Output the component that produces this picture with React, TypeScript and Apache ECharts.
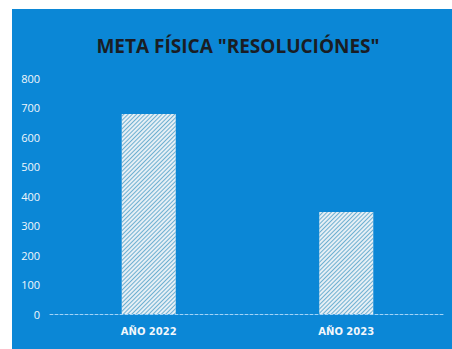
import React, { useEffect, useRef } from "react";
import * as echarts from "echarts";

const categories = ["AÑO 2022", "AÑO 2023"];
const values = [678, 346];
const yTicks = { min: 0, max: 800, interval: 100 };
const title = 'META FÍSICA "RESOLUCIÓNES"';

export default function App() {
  const ref = useRef<HTMLDivElement>(null);
  useEffect(() => {
    document.body.style.margin = "0";
    const chart = echarts.init(ref.current!, null, { renderer: "svg" });
    chart.setOption({
      animation: false,
      backgroundColor: "#0b87d6",
      title: {
        text: title,
        left: 221,
        textAlign: "center",
        top: 22,
        textStyle: {
          fontFamily: "Open Sans",
          fontWeight: "bold",
          fontSize: 19,
          color: "#1a1d24",
        },
      },
      grid: { left: 38, right: 7, top: 69, bottom: 35 },
      xAxis: {
        type: "category",
        data: categories,
        axisLine: {
          show: true,
          lineStyle: { color: "rgba(200,230,255,0.8)", type: [3, 2], width: 1 },
        },
        axisTick: { show: false },
        axisLabel: {
          color: "#f2f7fb",
          fontFamily: "DejaVu Sans",
          fontWeight: "bold",
          fontSize: 10,
          margin: 12,
        },
      },
      yAxis: {
        type: "value",
        min: yTicks.min,
        max: yTicks.max,
        interval: yTicks.interval,
        splitLine: { show: false },
        axisLine: { show: false },
        axisTick: { show: false },
        axisLabel: {
          color: "#f2f7fb",
          fontFamily: "Open Sans",
          fontSize: 11,
          margin: 10,
        },
      },
      series: [
        {
          type: "bar",
          data: values,
          barWidth: 54,
          itemStyle: {
            color: "#e6eff5",
            decal: {
              symbol: "rect",
              symbolSize: 1,
              dashArrayX: [1, 0],
              dashArrayY: [1, 2],
              rotation: -Math.PI / 4,
              color: "rgba(80,160,200,0.8)",
            },
          },
        },
      ],
    });
    return () => chart.dispose();
  }, []);
  return (
    <div style={{ width: 452, height: 349, background: "#fff", position: "relative" }}>
      <div
        ref={ref}
        style={{ position: "absolute", left: 12, top: 9, width: 440, height: 340 }}
      />
    </div>
  );
}
